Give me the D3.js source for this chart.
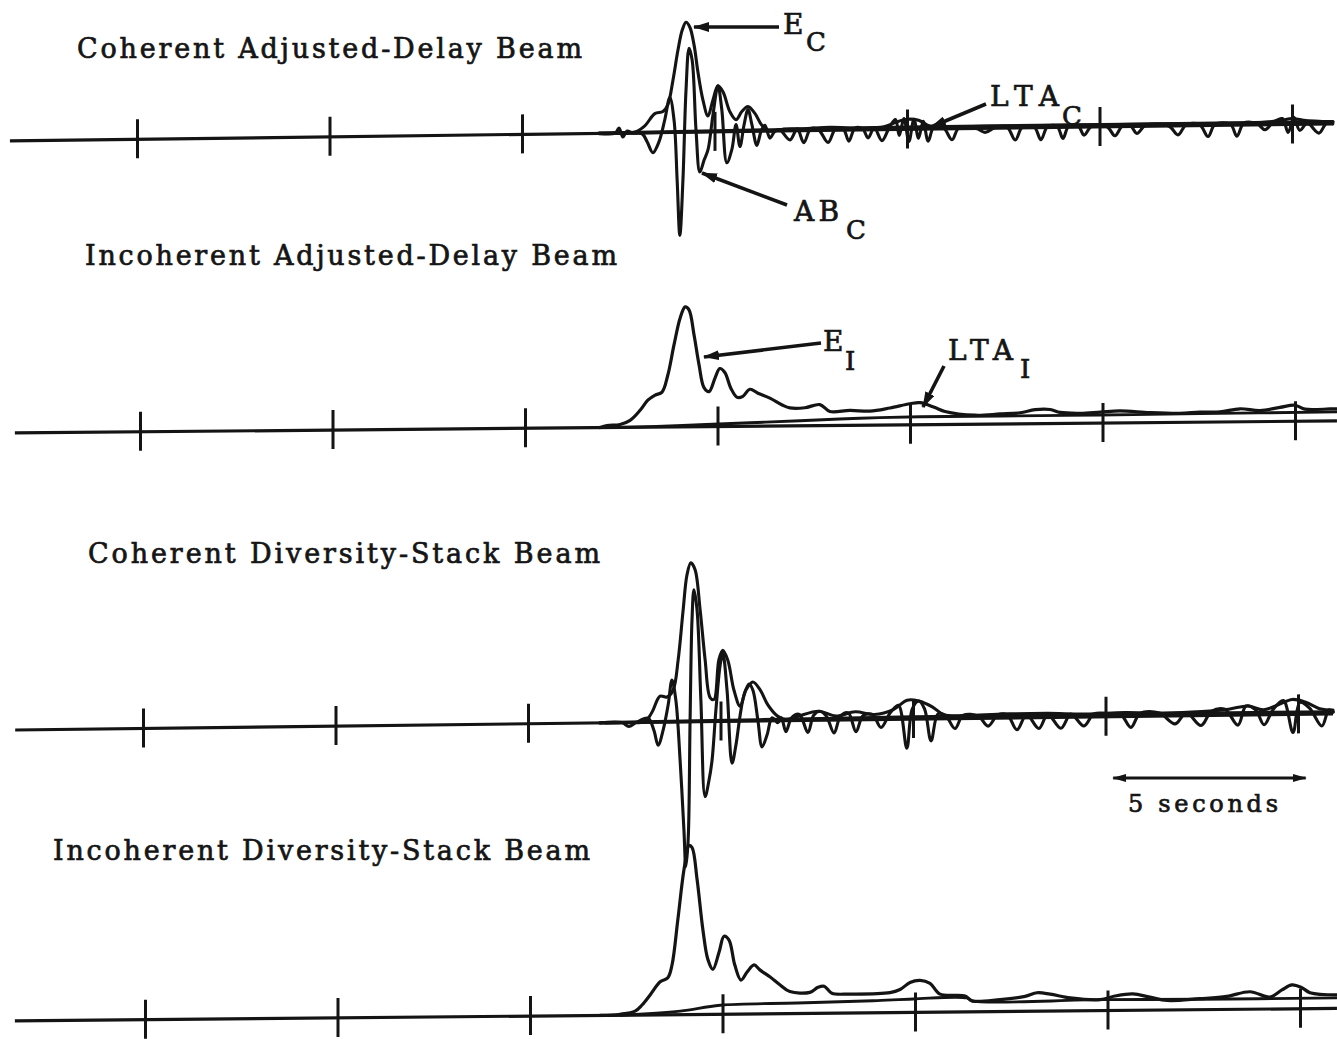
<!DOCTYPE html>
<html>
<head>
<meta charset="utf-8">
<script src="https://cdn.jsdelivr.net/npm/d3@7"></script>
<style>
  html, body { margin: 0; padding: 0; background: #fff; }
  svg { display: block; background: #fff; }
  text { font-family: "DejaVu Serif", "Liberation Serif", serif; fill: #151515; stroke: #151515; stroke-width: 0.7px; }
</style>
</head>
<body>
<svg id="chart" width="1337" height="1039"></svg>
<script>
// ---- time axis: tick marks every 5 seconds ----
const tickTimes = [0, 5, 10, 15, 20, 25, 30];

// ---- trace titles ----
const titles = [
  "Coherent Adjusted-Delay Beam",
  "Incoherent Adjusted-Delay Beam",
  "Coherent Diversity-Stack Beam",
  "Incoherent Diversity-Stack Beam"
];

// ---- Coherent adjusted-delay beam: [time s, amplitude] ----
const cadBeam = [
  [12.00,0],[12.42,0],[12.52,5],[12.62,-4],[12.73,2],[12.86,0],[13.12,-1],[13.25,-9],[13.40,-20],
  [13.56,-9],[13.71,13],[13.84,35],[13.95,12],[14.03,-48],[14.10,-103],[14.18,-48],[14.26,42],
  [14.34,84],[14.42,72],[14.52,2],[14.62,-40],[14.73,-28],[14.83,-18],[14.96,17],[15.09,46],
  [15.19,22],[15.32,-31],[15.45,-18],[15.56,7],[15.66,-15],[15.77,7],[15.87,22],[15.97,7],
  [16.10,-14],[16.21,0],[16.31,6],[16.44,-7],[16.57,0],
  [16.70,1],[16.96,-9],[17.15,2],[17.32,-12],[17.50,2],[17.70,1],[17.95,-12],[18.15,2],[18.35,1],
  [18.49,-11],[18.65,2],[18.85,1],[18.99,-8],[19.15,2],[19.35,-11],[19.55,3],[19.70,10],[19.80,-6],
  [19.92,11],[20.05,-12],[20.18,10],[20.30,-9],[20.42,8],[20.55,-12],[20.70,2],[20.95,1],[21.17,-11],
  [21.35,1],[21.80,0],[22.03,-4],[22.30,1],[22.60,1],[22.81,-12],[23.00,1],[23.30,1],[23.48,-12],
  [23.65,1],[23.90,1],[24.05,-11],[24.20,1],[24.45,1],[24.60,-8],[24.80,1],[25.20,0],[25.40,-9],
  [25.60,1],[25.80,1],[25.97,-7],[26.20,1],[26.80,0],[27.04,-9],[27.25,1],[27.60,1],[27.82,-11],
  [28.00,1],[28.40,1],[28.57,-11],[28.75,2],[29.10,1],[29.30,-5],[29.50,2],[29.75,6],[29.90,-8],
  [30.05,7],[30.20,-6],[30.40,1],[30.70,-9],[30.90,1],[31.06,0]
];
const cadEnergy = [
  [12.03,0],[12.42,0],[12.94,1],[13.19,7],[13.45,19],[13.66,21],[13.79,28],[13.92,52],[14.05,82],
  [14.16,102],[14.26,110],[14.36,105],[14.47,87],[14.57,60],[14.70,32],[14.83,16],[14.96,32],
  [15.09,46],[15.22,40],[15.40,20],[15.56,12],[15.71,20],[15.87,25],[16.05,18],[16.23,6],[16.44,0],
  [16.80,2],[17.30,2],[18.00,3],[18.80,2],[19.40,3],[19.70,7],[19.95,10],[20.30,9],[20.60,3],
  [21.20,2],[22.00,2],[23.00,2],[24.00,2],[25.00,2],[26.00,2],[27.00,2],[28.00,2],[29.00,2],
  [29.70,4],[30.00,6],[30.30,4],[31.06,2]
];
const cadLta = [[12.0,0],[16.0,1],[20.0,2],[31.06,2]];

// ---- Incoherent adjusted-delay beam ----
const iadEnergy = [
  [11.95,0],[12.13,2],[12.47,3],[12.73,7],[12.99,17],[13.19,27],[13.38,32],[13.56,35],[13.71,52],
  [13.87,82],[14.03,109],[14.16,120],[14.26,117],[14.39,92],[14.52,62],[14.65,39],[14.78,35],
  [14.94,49],[15.06,58],[15.19,54],[15.35,38],[15.51,29],[15.66,30],[15.84,37],[16.05,33],
  [16.36,28],[16.68,21],[16.88,18],[17.27,18],[17.66,21],[17.92,14],[18.44,15],[18.96,14],
  [19.48,17],[20.00,21],[20.26,22],[20.65,17],[20.91,13],[21.69,9],[22.34,10],[22.86,11],
  [23.25,14],[23.64,14],[23.90,11],[24.42,10],[24.94,11],[25.45,12],[26.23,10],[27.01,9],
  [27.53,10],[28.05,10],[28.57,13],[29.09,11],[29.61,14],[30.00,16],[30.26,12],[30.91,12],[31.09,12]
];
const iadLta = [
  [12.13,0],[13.25,0.5],[14.55,2],[15.84,3.5],[17.14,5],[18.70,7],[20.26,8],[22.34,8],
  [24.94,8],[27.53,8.5],[31.09,9]
];

// ---- Coherent diversity-stack beam ----
const cdsBeam = [
  [11.87,0],[12.44,0],[12.62,-4],[12.81,0],[13.12,4],[13.27,-8],[13.38,-23],[13.51,-8],[13.64,17],
  [13.74,42],[13.84,22],[13.95,-38],[14.05,-108],[14.10,-145],[14.16,-118],[14.21,2],[14.26,102],
  [14.31,132],[14.39,112],[14.49,22],[14.60,-75],[14.70,-59],[14.78,-39],[14.88,11],[14.99,56],
  [15.06,68],[15.17,31],[15.30,-42],[15.40,-24],[15.51,6],[15.61,26],[15.74,37],[15.84,31],
  [15.97,1],[16.08,-26],[16.21,-14],[16.34,3],[16.49,-2],
  [16.58,3],[16.70,-11],[16.85,3],[17.05,6],[17.27,-12],[17.42,5],[17.58,9],[17.75,4],[17.95,-13],
  [18.12,4],[18.32,7],[18.52,-12],[18.70,4],[18.95,5],[19.17,-8],[19.40,6],[19.62,14],[19.84,-29],
  [19.98,10],[20.15,18],[20.30,10],[20.47,-22],[20.65,5],[20.85,3],[21.09,-10],[21.30,3],[21.70,2],
  [21.95,-8],[22.20,3],[22.45,3],[22.70,-12],[22.95,3],[23.27,-11],[23.50,3],[23.84,-11],[24.10,3],
  [24.44,-9],[24.70,3],[25.10,3],[25.40,2],[25.66,-11],[25.90,3],[26.40,3],[26.81,-8],[27.10,3],
  [27.48,-10],[27.75,4],[28.10,6],[28.44,-10],[28.65,9],[28.90,5],[29.12,-10],[29.35,5],[29.62,14],
  [29.87,-18],[30.05,12],[30.30,6],[30.62,-12],[30.80,4],[30.91,2]
];
const cdsEnergy = [
  [11.87,0],[12.52,0],[13.04,1],[13.22,10],[13.43,26],[13.61,25],[13.77,32],[13.90,62],[14.03,112],
  [14.13,147],[14.23,159],[14.34,152],[14.47,112],[14.60,62],[14.73,24],[14.83,22],[14.96,62],
  [15.06,71],[15.19,61],[15.35,31],[15.51,15],[15.66,31],[15.84,39],[16.03,31],[16.23,16],
  [16.47,5],[16.68,1],[17.00,4],[17.55,9],[18.00,4],[18.50,8],[19.00,5],[19.50,10],[19.85,19],
  [20.15,18],[20.50,12],[20.80,4],[21.50,3],[22.50,4],[23.50,4],[24.50,3],[25.50,4],[26.50,3],
  [27.50,4],[28.20,6],[28.70,9],[29.10,5],[29.50,10],[29.85,15],[30.20,12],[30.60,5],[30.91,4]
];
const cdsLta = [[12.0,0],[16.0,1],[20.0,2],[30.91,2]];

// ---- Incoherent diversity-stack beam ----
const idsEnergy = [
  [11.82,0],[12.34,1],[12.73,4],[12.91,10],[13.12,20],[13.38,33],[13.58,37],[13.69,50],[13.84,95],
  [14.00,145],[14.13,169],[14.21,167],[14.34,135],[14.49,85],[14.62,55],[14.75,45],[14.91,62],
  [15.04,78],[15.17,74],[15.32,49],[15.48,34],[15.64,42],[15.82,49],[15.97,44],[16.23,37],
  [16.49,29],[16.75,22],[17.27,21],[17.48,26],[17.64,27],[17.84,20],[18.31,19],[19.35,20],
  [19.61,23],[19.87,30],[20.13,32],[20.39,29],[20.65,18],[21.30,16],[21.48,11],[22.21,12],
  [22.86,15],[23.17,18.5],[23.51,17],[24.03,13],[24.81,11],[25.19,14.5],[25.66,16.5],[26.10,13],
  [26.55,9.5],[27.40,11],[28.10,13],[28.70,17.5],[29.22,12],[29.53,19],[29.79,24],[30.05,21],
  [30.26,16],[30.96,13.5]
];
const idsLta = [
  [12.34,0],[13.90,3.5],[14.94,9],[16.94,10.5],[18.91,12],[19.95,13.5],[21.35,14],[21.48,11],
  [24.81,11],[27.40,10.5],[30.96,10.5]
];

// ---- scale bar ----
const scaleBarSeconds = 5;
const scaleBarLabel = "5 seconds";

// ---- page layout ----
const W = 1337, H = 1039;
const pxPerSecond = 38.5;
const panels = [
  { x0: 137, base: 141.1, tilt: -0.739, tStart: -3.30, tEnd: 31.06,
    title: { x: 77, y: 58, len: 505 },
    lines: [ { d: cadLta, w: 3.6 }, { d: cadEnergy, w: 3.1 }, { d: cadBeam, w: 3.1 } ] },
  { x0: 140, base: 433.1, tilt: -0.523, tStart: -3.25, tEnd: 31.09,
    title: { x: 85, y: 265, len: 532 },
    lines: [ { d: iadLta, w: 2.9 }, { d: iadEnergy, w: 3.2 } ] },
  { x0: 143, base: 730.2, tilt: -0.699, tStart: -3.32, tEnd: 30.91,
    title: { x: 88, y: 563, len: 512 },
    lines: [ { d: cdsLta, w: 3.6 }, { d: cdsEnergy, w: 3.1 }, { d: cdsBeam, w: 3.1 } ] },
  { x0: 145, base: 1021.1, tilt: -0.544, tStart: -3.38, tEnd: 30.96,
    title: { x: 53, y: 860, len: 537 },
    lines: [ { d: idsLta, w: 2.9 }, { d: idsEnergy, w: 3.2 } ] }
];

const svg = d3.select("#chart");
svg.append("rect").attr("width", W).attr("height", H).attr("fill", "#fff");

const ink = "#141414";

// amplitude scale (shared): positive upward from the trace baseline
const y = d3.scaleLinear().domain([-100, 100]).range([100, -100]);

panels.forEach((p, i) => {
  const x = d3.scaleLinear().domain([0, 30]).range([p.x0, p.x0 + 30 * pxPerSecond]);

  svg.append("text")
    .attr("x", p.title.x).attr("y", p.title.y)
    .attr("font-size", 27)
    .attr("textLength", p.title.len)
    .attr("lengthAdjust", "spacing")
    .text(titles[i]);

  // each recorder trace sits on a slightly tilted zero line
  const g = svg.append("g")
    .attr("transform", `translate(0,${p.base}) skewY(${p.tilt})`);

  // zero line
  g.append("path")
    .attr("d", d3.line().x(d => x(d)).y(() => y(0))([p.tStart, p.tEnd]))
    .attr("fill", "none").attr("stroke", ink).attr("stroke-width", 3.2);

  // second marks
  const axis = d3.axisBottom(x).tickValues(tickTimes).tickSize(39).tickFormat("");
  const ag = g.append("g").attr("transform", `translate(0,${y(0) - 20})`).call(axis);
  ag.select(".domain").remove();
  ag.selectAll(".tick line").attr("stroke", ink).attr("stroke-width", 3);

  const line = d3.line()
    .x(d => x(d[0]))
    .y(d => y(d[1]))
    .curve(d3.curveCatmullRom.alpha(0.5));

  p.lines.forEach(s => {
    g.append("path")
      .attr("d", line(s.d))
      .attr("fill", "none")
      .attr("stroke", ink)
      .attr("stroke-width", s.w)
      .attr("stroke-linejoin", "round")
      .attr("stroke-linecap", "round");
  });

  p.x = x;
});

// ---- arrow annotations ----
const defs = svg.append("defs");
defs.append("marker")
  .attr("id", "head")
  .attr("viewBox", "0 0 16 10")
  .attr("refX", 15).attr("refY", 5)
  .attr("markerWidth", 16).attr("markerHeight", 10)
  .attr("markerUnits", "userSpaceOnUse")
  .attr("orient", "auto")
  .append("path").attr("d", "M0,0 L16,5 L0,10 Z").attr("fill", ink);

const arrows = [
  { from: [779, 27], to: [694, 27] },
  { from: [787, 205], to: [702, 173] },
  { from: [986, 104], to: [931, 127] },
  { from: [821, 343], to: [704, 357] },
  { from: [944, 366], to: [923, 407] }
];
arrows.forEach(a => {
  svg.append("line")
    .attr("x1", a.from[0]).attr("y1", a.from[1])
    .attr("x2", a.to[0]).attr("y2", a.to[1])
    .attr("stroke", ink).attr("stroke-width", 3.6)
    .attr("marker-end", "url(#head)");
});

const labels = [
  { main: "E", sub: "C", x: 783, y: 34, len: 18, sx: 806, sy: 51 },
  { main: "AB", sub: "C", x: 794, y: 221, len: 45, sx: 846, sy: 239 },
  { main: "LTA", sub: "C", x: 990, y: 106, len: 69, sx: 1062, sy: 125 },
  { main: "E", sub: "I", x: 823, y: 351, len: 18, sx: 845, sy: 370 },
  { main: "LTA", sub: "I", x: 948, y: 360, len: 65, sx: 1020, sy: 378 }
];
labels.forEach(l => {
  svg.append("text").attr("x", l.x).attr("y", l.y).attr("font-size", 28)
    .attr("textLength", l.len).attr("lengthAdjust", "spacing").text(l.main);
  svg.append("text").attr("x", l.sx).attr("y", l.sy).attr("font-size", 26).text(l.sub);
});

// ---- 5-second scale bar (drawn on the third trace's time scale) ----
{
  const x = panels[2].x;
  const t0 = 25.2;
  const yBar = 778;
  const defsBar = defs.append("marker")
    .attr("id", "barhead")
    .attr("viewBox", "0 0 14 8")
    .attr("refX", 13).attr("refY", 4)
    .attr("markerWidth", 14).attr("markerHeight", 8)
    .attr("markerUnits", "userSpaceOnUse")
    .attr("orient", "auto-start-reverse");
  defsBar.append("path").attr("d", "M0,0 L14,4 L0,8 Z").attr("fill", ink);
  svg.append("line")
    .attr("x1", x(t0)).attr("x2", x(t0 + scaleBarSeconds))
    .attr("y1", yBar).attr("y2", yBar)
    .attr("stroke", ink).attr("stroke-width", 2.8)
    .attr("marker-start", "url(#barhead)")
    .attr("marker-end", "url(#barhead)");
  svg.append("text")
    .attr("x", 1128).attr("y", 812)
    .attr("font-size", 24)
    .attr("textLength", 150).attr("lengthAdjust", "spacing")
    .text(scaleBarLabel);
}
</script>
</body>
</html>
